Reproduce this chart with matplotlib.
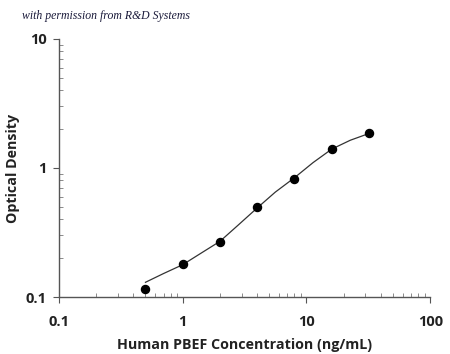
import matplotlib
matplotlib.use("Agg")
import matplotlib.pyplot as plt
from matplotlib.ticker import FixedLocator, LogLocator, NullFormatter

# standard points
conc = [0.5, 1, 2, 4, 8, 16, 32]
od = [0.116, 0.181, 0.267, 0.496, 0.822, 1.40, 1.87]

# fitted curve
curve_x = [0.5, 0.7, 1, 1.4, 2, 2.8, 4, 5.6, 8, 11.3, 16, 22.6, 32]
curve_y = [0.130, 0.152, 0.178, 0.218, 0.27, 0.36, 0.49, 0.65, 0.84, 1.10, 1.40, 1.64, 1.85]

x_ticks = [0.1, 1, 10, 100]
x_labels = ["0.1", "1", "10", "100"]
y_ticks = [0.1, 1, 10]
y_labels = ["0.1", "1", "10"]

plt.rcParams["font.family"] = ["Open Sans", "DejaVu Sans"]
fig = plt.figure(figsize=(4.5, 3.54), dpi=100)
ax = fig.add_axes([0.131, 0.161, 0.825, 0.729])

ax.plot(curve_x, curve_y, color="#333333", linewidth=0.9)
ax.plot(conc, od, "o", color="black", markersize=5.8)

ax.set_xscale("log")
ax.set_yscale("log")
ax.set_xlim(0.1, 100)
ax.set_ylim(0.1, 10)

ax.xaxis.set_major_locator(FixedLocator(x_ticks))
ax.set_xticklabels(x_labels)
ax.yaxis.set_major_locator(FixedLocator(y_ticks))
ax.set_yticklabels(y_labels)
ax.xaxis.set_minor_locator(LogLocator(base=10, subs=range(2, 10)))
ax.yaxis.set_minor_locator(LogLocator(base=10, subs=range(2, 10)))
ax.xaxis.set_minor_formatter(NullFormatter())
ax.yaxis.set_minor_formatter(NullFormatter())

for s in ["top", "right"]:
    ax.spines[s].set_visible(False)
for s in ["left", "bottom"]:
    ax.spines[s].set_color("#555555")
    ax.spines[s].set_linewidth(1.0)

ax.tick_params(which="major", direction="out", length=4, width=0.8, color="#555555",
               labelsize=10.5)
ax.tick_params(axis="x", which="major", pad=9)
ax.tick_params(axis="y", which="major", pad=5)
ax.tick_params(which="minor", direction="in", length=3, width=0.6, color="#777777")
for lab in ax.get_xticklabels() + ax.get_yticklabels():
    lab.set_fontweight("bold")
    lab.set_color("#222222")

ax.set_xlabel("Human PBEF Concentration (ng/mL)", fontsize=10.3, fontweight="bold",
              color="#222222", va="center")
ax.xaxis.set_label_coords(0.5, (297 - 345) / 258.0)
ax.set_ylabel("Optical Density", fontsize=10.3, fontweight="bold", color="#222222",
              va="center")
ax.yaxis.set_label_coords((13 - 59) / 371.0, 0.5)

fig.text(0.05, 0.955, "with permission from R&D Systems", fontsize=8.5, style="italic",
         family="Liberation Serif", color="#1a1a3a", va="center")

fig.savefig("out.png", dpi=100)
